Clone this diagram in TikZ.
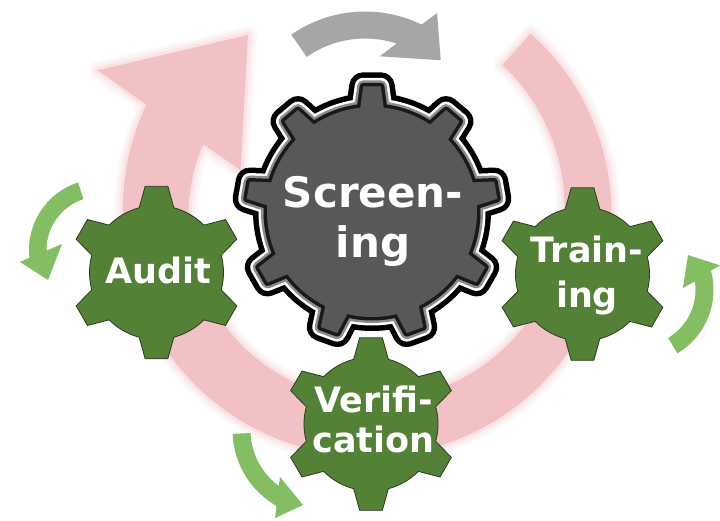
\documentclass[tikz,border=0pt]{standalone}
\usepackage{fontspec}
\newfontfamily\gearfont{DejaVu Sans}
\definecolor{pinkc}{RGB}{242,193,197}
\definecolor{grayarrow}{RGB}{166,166,166}
\definecolor{greenarrow}{RGB}{131,190,98}
\definecolor{gearfill}{RGB}{83,129,53}
\definecolor{gearline}{RGB}{45,58,36}
\definecolor{screenfill}{RGB}{88,88,88}
\definecolor{screenband}{RGB}{140,140,140}
\definecolor{screendark}{RGB}{25,25,25}
% gear outline: #1 teeth, #2 step, #3 first tooth angle, #4 root radius, #5 tip radius, #6 base half angle, #7 tip half angle
\newcommand\gearpath[7]{({#3-#6}:#4) \foreach \k in {1,...,#1}{ -- ({#3+(\k-1)*#2-#7}:#5) -- ({#3+(\k-1)*#2+#7}:#5) -- ({#3+(\k-1)*#2+#6}:#4) arc[start angle={#3+(\k-1)*#2+#6}, end angle={#3+\k*#2-#6}, radius=#4] } -- cycle}
\newcommand\ringpath{(-48:198) -- (-48:240) -- plot[domain=-48:205.6, samples=120] (\x:{240+8*(\x+48)/253.6}) -- (207.5:307) -- (235.4:215) -- (197.9:136) -- plot[domain=202.1:-48, samples=120] (\x:{198-18*(\x+48)/250.1}) -- cycle}
\newcommand\screengear{\gearpath{9}{40}{270}{105}{126}{6.4}{4.0}}
\tikzset{
  gtext/.style={text=white, align=center, inner sep=0pt},
  greengear/.style={fill=gearfill, draw=gearline, line width=0.8pt, line join=miter},
  cwarrow/.style={fill=grayarrow},
  ccwarrow/.style={fill=greenarrow},
}
\begin{document}
\begin{tikzpicture}[x=1pt,y=-1pt]
\useasboundingbox (0,0) rectangle (720,520);
\fill[white] (0,0) rectangle (720,520);
% big pink circular arrow (soft edges)
\begin{scope}[shift={(370,212)}]
  \draw[pinkc, line width=18, opacity=0.10, line join=round] \ringpath;
  \draw[pinkc, line width=12, opacity=0.15, line join=round] \ringpath;
  \draw[pinkc, line width=6, opacity=0.25, line join=round] \ringpath;
  \fill[pinkc] \ringpath;
\end{scope}
% gray arrow on top
\begin{scope}[shift={(365,140)}]
  \fill[cwarrow] (-125:128.5) arc[start angle=-125, end angle=-63.9, radius=128.5] -- (-60.4:146) -- (-46.5:110) -- (-80:85) -- (-71.9:101.5) arc[start angle=-71.9, end angle=-125, radius=101.5] -- cycle;
\end{scope}
% green arrow left
\begin{scope}[shift={(100,250)}]
  \fill[ccwarrow] (252:71) arc[start angle=252, end angle=173.7, radius=71] -- (171.5:81) -- (150:60) -- (189:38.5) -- (179.3:53.5) arc[start angle=179.3, end angle=252, radius=53.5] -- cycle;
\end{scope}
% green arrow right
\begin{scope}[shift={(640,290)}]
  \fill[ccwarrow] (59.5:73.5) arc[start angle=59.5, end angle=-15.3, radius=73.5] -- (-17:84) -- (-36:59.4) -- (-2.7:43) -- (-9:55.5) arc[start angle=-9, end angle=59.5, radius=55.5] -- cycle;
\end{scope}
% green arrow bottom
\begin{scope}[shift={(320,430)}]
  \fill[ccwarrow] (177.5:87.5) arc[start angle=177.5, end angle=119.8, radius=87.5] -- (117:98.8) -- (102.8:76.9) -- (130.4:61.7) -- (126.3:69.5) arc[start angle=126.3, end angle=177.5, radius=69.5] -- cycle;
\end{scope}
% green gears
\begin{scope}[shift={(156.5,272.5)}]
  \draw[greengear] \gearpath{6}{60}{270}{67}{87}{15}{7.5};
\end{scope}
\begin{scope}[shift={(582.5,274)}]
  \draw[greengear] \gearpath{6}{60}{270}{67}{87}{15}{7.5};
\end{scope}
\begin{scope}[shift={(371,424)}]
  \draw[greengear] \gearpath{6}{60}{270}{67}{87}{15}{7.5};
\end{scope}
% central gear
\begin{scope}[shift={(372,212)}]
  \draw[black, line width=28, line join=round] \screengear;
  \draw[white, line width=17, line join=round] \screengear;
  \draw[screenband, line width=12, line join=round] \screengear;
  \draw[screendark, line width=7, line join=round] \screengear;
  \fill[screenfill] \screengear;
\end{scope}
% labels
\node[gtext, font=\gearfont\bfseries\fontsize{42}{50}\selectfont] (screening) at (373,221.5) {Screen-\\ing};
\node[gtext, font=\gearfont\bfseries\fontsize{35}{42}\selectfont] (audit) at (158,270) {Audit};
\node[gtext, font=\gearfont\bfseries\fontsize{35}{45}\selectfont] (training) at (587,275.3) {Train-\\ing};
\node[gtext, font=\gearfont\bfseries\fontsize{35}{40}\selectfont] (verification) at (373.5,419.7) {Verifi-\\cation};
\end{tikzpicture}
\end{document}
